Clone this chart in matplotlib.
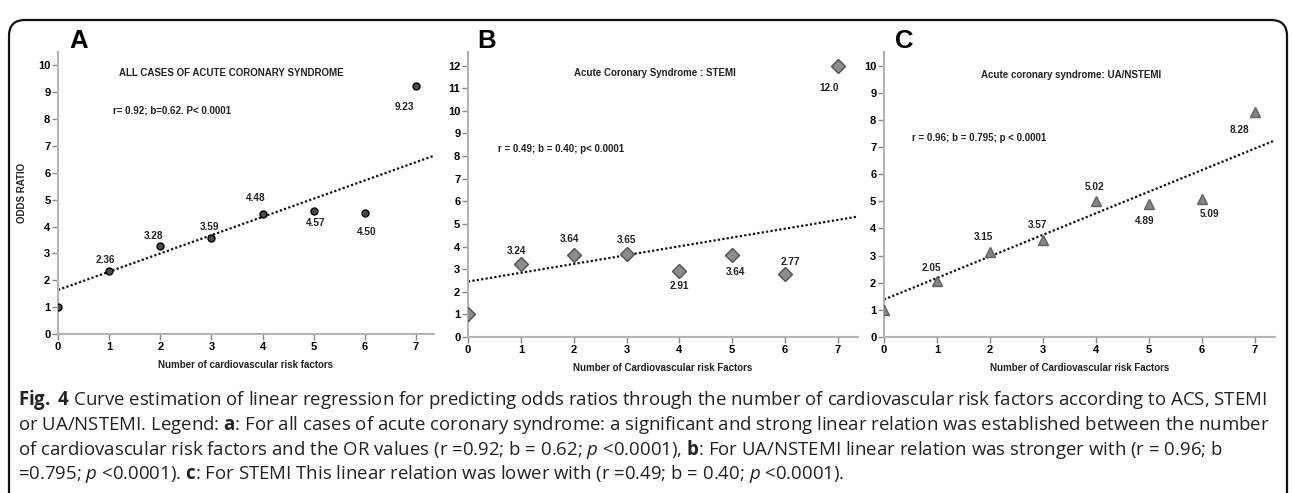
import numpy as np
import matplotlib
matplotlib.use("Agg")
import matplotlib.pyplot as plt
from matplotlib.patches import FancyBboxPatch
from matplotlib.transforms import IdentityTransform

plt.rcParams['font.family'] = ['Liberation Sans', 'DejaVu Sans']
plt.rcParams['mathtext.fontset'] = 'custom'
plt.rcParams['mathtext.rm'] = 'Open Sans'
plt.rcParams['mathtext.bf'] = 'Open Sans:bold'
plt.rcParams['mathtext.it'] = 'Open Sans:italic'

# --- data ---
n_rf = [0, 1, 2, 3, 4, 5, 6, 7]
or_all = [1.0, 2.36, 3.28, 3.59, 4.48, 4.57, 4.50, 9.23]
or_stemi = [1.0, 3.24, 3.64, 3.65, 2.91, 3.64, 2.77, 12.0]
or_nstemi = [1.0, 2.05, 3.15, 3.57, 5.02, 4.89, 5.09, 8.28]
lab_all = ['', '2.36', '3.28', '3.59', '4.48', '4.57', '4.50', '9.23']
lab_stemi = ['', '3.24', '3.64', '3.65', '2.91', '3.64', '2.77', '12.0']
lab_nstemi = ['', '2.05', '3.15', '3.57', '5.02', '4.89', '5.09', '8.28']
# fitted lines as drawn (intercept, slope)
fit_all = (1.64, 0.68)
fit_stemi = (2.45, 0.39)
fit_nstemi = (1.38, 0.795)

# label offsets in pixels (dx, dy)
off_all = [(0, 0), (-4, 11), (-7, 10), (-2, 11), (-7, 16), (2, -12), (2, -19), (-12, -21)]
off_stemi = [(0, 0), (-4, 13), (-4, 16), (0, 14), (0, -15), (3, -17), (5, 12), (-9, -22)]
off_nstemi = [(0, 0), (-6, 13), (-6, 15), (-5, 15), (-1, 14), (-4, -17), (8, -15), (-15, -18)]

fig = plt.figure(figsize=(12.92, 4.93), dpi=100)

# rounded frame
fig.patches.append(FancyBboxPatch((9, -30), 1278, 503, boxstyle="round,pad=0,rounding_size=16",
                                  transform=IdentityTransform(), fill=False, ec='#111111', lw=1.6,
                                  figure=fig))

panels = [
    dict(rect=[0.0449, 0.3225, 0.291, 0.572], y=or_all, lab=lab_all, off=off_all, fit=fit_all,
         ylim=10.5, yt=range(0, 11), xmax=7.35, mk='o', ms=5, fc='#4a4a4a', ec='#000000',
         title='ALL CASES OF ACUTE CORONARY SYNDROME', tpos=(0.46, 0.926),
         rtxt='r= 0.92; b=0.62. P< 0.0001', rpos=(0.146, 0.794),
         xl='Number of cardiovascular risk factors', letter='A', lx=69),
    dict(rect=[0.3622, 0.3164, 0.3019, 0.578], y=or_stemi, lab=lab_stemi, off=off_stemi, fit=fit_stemi,
         ylim=12.6, yt=range(0, 13), xmax=7.38, mk='D', ms=7, fc='#8c8c8c', ec='#505050',
         title='Acute Coronary Syndrome : STEMI', tpos=(0.479, 0.927),
         rtxt='r = 0.49; b = 0.40; p< 0.0001', rpos=(0.076, 0.66),
         xl='Number of Cardiovascular risk Factors', letter='B', lx=477),
    dict(rect=[0.6842, 0.3164, 0.3026, 0.578], y=or_nstemi, lab=lab_nstemi, off=off_nstemi, fit=fit_nstemi,
         ylim=10.5, yt=range(0, 11), xmax=7.38, mk='^', ms=7.5, fc='#858585', ec='#606060',
         title='Acute coronary syndrome: UA/NSTEMI', tpos=(0.478, 0.919),
         rtxt='r = 0.96; b = 0.795; p < 0.0001', rpos=(0.071, 0.70),
         xl='Number of Cardiovascular risk Factors', letter='C', lx=895),
]

for p in panels:
    ax = fig.add_axes(p['rect'])
    ax.set_xlim(0, p['xmax'])
    ax.set_ylim(0, p['ylim'])
    for s in ['top', 'right']:
        ax.spines[s].set_visible(False)
    for s in ['left', 'bottom']:
        ax.spines[s].set_color('#b4b4b4')
        ax.spines[s].set_linewidth(1.5)
    ax.set_xticks(n_rf)
    ax.set_yticks(list(p['yt']))
    ax.tick_params(direction='out', length=4, width=1, color='#888888', labelsize=8, pad=1.5)
    for t in ax.get_xticklabels() + ax.get_yticklabels():
        t.set_fontweight('bold')
    # regression line
    xx = np.array([0, p['xmax']])
    b0, b1 = p['fit']
    ax.plot(xx, b0 + b1 * xx, color='#111111', ls=(0, (1, 1)), lw=1.6, zorder=2)
    ax.plot(n_rf, p['y'], ls='none', marker=p['mk'], ms=p['ms'], mfc=p['fc'], mec=p['ec'],
            mew=1.0, zorder=3)
    for xi, yi, lb, (dx, dy) in zip(n_rf, p['y'], p['lab'], p['off']):
        if lb:
            ax.annotate(lb, (xi, yi), xytext=(dx, dy), textcoords='offset pixels',
                        ha='center', va='center', fontsize=7.2, fontweight='bold', color='#222222')
    ax.text(p['tpos'][0], p['tpos'][1], p['title'], transform=ax.transAxes, ha='center', va='center',
            fontsize=7, fontweight='bold', color='#222222')
    ax.text(p['rpos'][0], p['rpos'][1], p['rtxt'], transform=ax.transAxes, ha='left', va='center',
            fontsize=7, fontweight='bold', color='#222222')
    ax.set_xlabel(p['xl'], fontsize=7, fontweight='bold', color='#222222', labelpad=6)
    fig.text(p['lx'] / 1292, 1 - 48 / 493, p['letter'], fontsize=18.5, fontweight='bold',
             ha='left', va='baseline')
    if p['letter'] == 'A':
        ax.set_ylabel('ODDS RATIO', fontsize=7, fontweight='bold', color='#222222', labelpad=8)

# caption
cap = [
    r"$\mathbf{Fig.}$ $\mathbf{4}$ Curve estimation of linear regression for predicting odds ratios through the number of cardiovascular risk factors according to ACS, STEMI",
    r"or UA/NSTEMI. Legend: $\mathbf{a}$: For all cases of acute coronary syndrome: a significant and strong linear relation was established between the number",
    r"of cardiovascular risk factors and the OR values (r =0.92; b = 0.62; $\mathit{p}$ <0.0001), $\mathbf{b}$: For UA/NSTEMI linear relation was stronger with (r = 0.96; b",
    r"=0.795; $\mathit{p}$ <0.0001). $\mathbf{c}$: For STEMI This linear relation was lower with (r =0.49; b = 0.40; $\mathit{p}$ <0.0001).",
]
for i, line in enumerate(cap):
    fig.text(18 / 1292, 1 - (400 + 24.7 * i) / 493, line, fontsize=13.4, family='Open Sans',
             color='#222222', ha='left', va='center')

fig.savefig('out.png', dpi=100)
